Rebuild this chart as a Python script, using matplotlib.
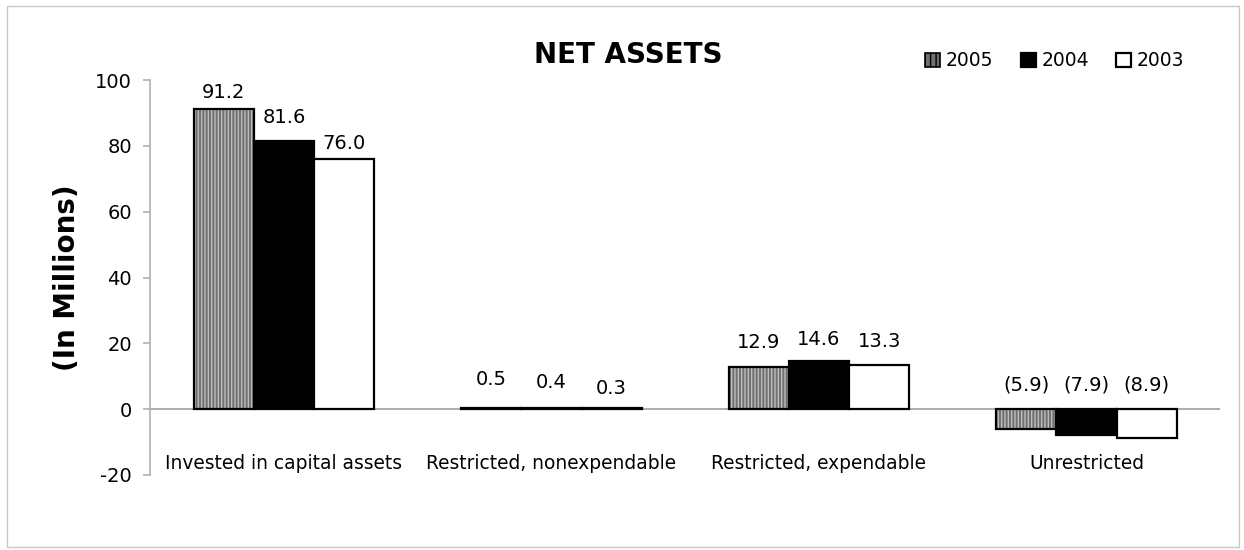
import matplotlib
matplotlib.use("Agg")
import matplotlib.pyplot as plt
import numpy as np
from matplotlib.patches import Rectangle

categories = ["Invested in capital assets", "Restricted, nonexpendable",
              "Restricted, expendable", "Unrestricted"]
years = ["2005", "2004", "2003"]
v2005 = [91.2, 0.5, 12.9, -5.9]
v2004 = [81.6, 0.4, 14.6, -7.9]
v2003 = [76.0, 0.3, 13.3, -8.9]
series = [v2005, v2004, v2003]
yticks = [-20, 0, 20, 40, 60, 80, 100]

plt.rcParams['font.family'] = ['DejaVu Sans']
plt.rcParams['hatch.linewidth'] = 1.0

fig = plt.figure(figsize=(12.44, 5.5), dpi=100)
ax = fig.add_axes([0.1206, 0.1364, 0.8604, 0.7181])

# label offsets above bar top (pixels), per series / category
label_offsets_px = [[16, 28, 24, 24], [23, 25, 22, 24], [16, 20, 24, 24]]

x = np.arange(len(categories))
w = 0.225
handles = []
for i, (vals, yr) in enumerate(zip(series, years)):
    pos = x + (i - 1) * w
    if i == 0:
        ax.bar(pos, vals, width=w, facecolor='#707070', hatch='|||||',
               edgecolor='#bdbdbd', linewidth=0)
        bars = ax.bar(pos, vals, width=w, facecolor='none', edgecolor='black',
                      linewidth=1.6)
        h = Rectangle((0, 0), 1, 1, facecolor='#707070', hatch='|||',
                      edgecolor='black', linewidth=1.2)
    else:
        fc = 'black' if i == 1 else 'white'
        bars = ax.bar(pos, vals, width=w, facecolor=fc, edgecolor='black',
                      linewidth=1.6)
        h = Rectangle((0, 0), 1, 1, facecolor=fc, edgecolor='black', linewidth=1.6)
    handles.append(h)
    for j, (b, v) in enumerate(zip(bars, vals)):
        txt = f"{v:.1f}" if v >= 0 else f"({abs(v):.1f})"
        top = max(v, 0)
        ax.annotate(txt, (b.get_x() + b.get_width() / 2, top),
                    xytext=(0, label_offsets_px[i][j] * 0.72),
                    textcoords='offset points', ha='center', va='center',
                    fontsize=14)

ax.set_xlim(-0.5, len(categories) - 0.5)
ax.set_ylim(-20, 100)
ax.set_yticks(yticks)
ax.set_yticklabels([str(t) for t in yticks], fontsize=14)
ax.axhline(0, color='#a0a0a0', linewidth=1.2, zorder=0.5)
ax.set_xticks(x)
ax.set_xticklabels(categories, fontsize=13.4)
ax.tick_params(axis='x', length=0, pad=-15)
ax.tick_params(axis='y', length=5, color='#b0b0b0', width=1.2, pad=8)
for s in ['top', 'right', 'bottom']:
    ax.spines[s].set_visible(False)
ax.spines['left'].set_color('#b0b0b0')
ax.spines['left'].set_linewidth(1.2)

ax.set_ylabel("(In Millions)", fontsize=20, fontweight='bold', labelpad=10)
fig.text(0.505, 0.9, "NET ASSETS", ha='center', va='center', fontsize=20,
         fontweight='bold')

leg = ax.legend(handles, years, loc='upper right', bbox_to_anchor=(0.982, 1.115),
                ncol=3, frameon=False, fontsize=13.5, handlelength=0.8,
                handleheight=0.8, handletextpad=0.3, columnspacing=1.45)

fig.patches.append(Rectangle((0.006, 0.006), 0.99, 0.984, transform=fig.transFigure,
                             fill=False, edgecolor='#c8c8c8', linewidth=1.0))

fig.savefig("out.png", dpi=100)
